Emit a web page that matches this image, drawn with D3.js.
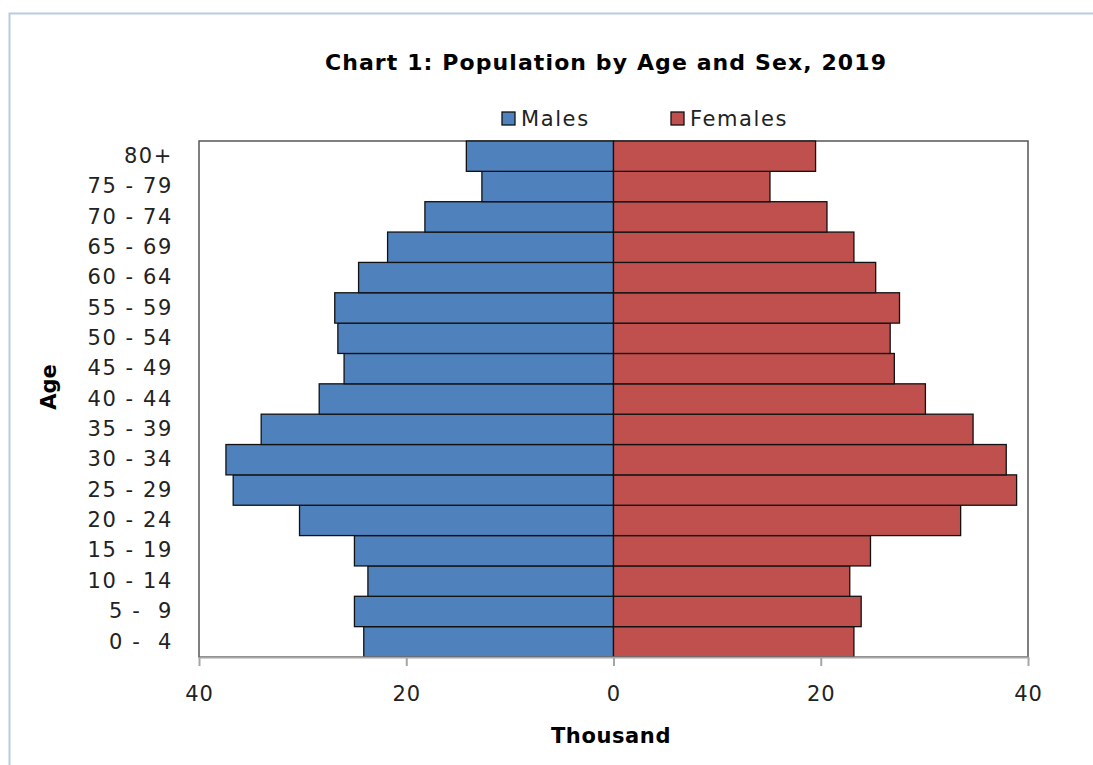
<!DOCTYPE html>
<html lang="en">
<head>
    <meta charset="UTF-8">
    <script src="https://d3js.org/d3.v7.min.js"></script>
    <title>Chart 1: Population by Age and Sex, 2019</title>
    <style>
        html, body {
            margin: 0px;
            padding: 0px;
            background-color: #ffffff;
            font-family: Verdana, "DejaVu Sans", sans-serif;
            color: #000;
        }
        text { white-space: pre; }
    </style>
</head>
<body>
    <div id="chart"></div>
    <script>
        // age groups, bottom to top
        let ages = ['0 -  4', '5 -  9', '10 - 14', '15 - 19', '20 - 24', '25 - 29', '30 - 34', '35 - 39',
                    '40 - 44', '45 - 49', '50 - 54', '55 - 59', '60 - 64', '65 - 69', '70 - 74', '75 - 79', '80+'];
        // thousands
        let males = [24.1, 25.0, 23.7, 25.0, 30.3, 36.7, 37.4, 34.0, 28.4, 26.0, 26.6, 26.9, 24.6, 21.8, 18.2, 12.7, 14.2];
        let females = [23.2, 23.9, 22.8, 24.8, 33.5, 38.9, 37.9, 34.7, 30.1, 27.1, 26.7, 27.6, 25.3, 23.2, 20.6, 15.1, 19.5];
        let xTicks = [-40, -20, 0, 20, 40];
        let series = [
            { name: 'Males', colour: '#4f81bd', values: males, sign: -1 },
            { name: 'Females', colour: '#c0504d', values: females, sign: 1 }
        ];

        let width = 1093;
        let height = 765;
        let plot = { left: 199, right: 1028, top: 141, bottom: 657 };

        let svg = d3.select('#chart').append('svg')
            .attr('width', width)
            .attr('height', height);

        // outer chart border (cropped)
        svg.append('path')
            .attr('d', `M9.5,${height} L9.5,13.5 L${width},13.5`)
            .attr('fill', 'none')
            .attr('stroke', '#b9cbe4')
            .attr('stroke-width', 2);

        let x = d3.scaleLinear().domain([-40, 40]).range([plot.left, plot.right]);
        let y = d3.scaleBand().domain(ages.slice().reverse()).range([plot.top, plot.bottom]).padding(0);

        // plot frame
        svg.append('rect')
            .attr('x', plot.left)
            .attr('y', plot.top)
            .attr('width', plot.right - plot.left)
            .attr('height', plot.bottom - plot.top)
            .attr('fill', '#fff')
            .attr('stroke', '#555')
            .attr('stroke-width', 1.5);

        // bars
        series.forEach(s => {
            svg.append('g').selectAll('rect')
                .data(s.values.map((v, i) => ({ age: ages[i], v: v * s.sign })))
                .join('rect')
                .attr('x', d => Math.min(x(0), x(d.v)))
                .attr('y', d => y(d.age))
                .attr('width', d => Math.abs(x(d.v) - x(0)))
                .attr('height', y.bandwidth())
                .attr('fill', s.colour)
                .attr('stroke', '#111')
                .attr('stroke-width', 1.3);
        });

        // x axis
        let xAxis = svg.append('g')
            .attr('transform', `translate(0,${plot.bottom})`)
            .call(d3.axisBottom(x).tickValues(xTicks).tickFormat(d => Math.abs(d)).tickSize(9).tickSizeOuter(0).tickPadding(20));
        xAxis.select('.domain').attr('stroke', '#a6a6a6').attr('stroke-width', 2);
        xAxis.selectAll('.tick line').attr('stroke', '#a6a6a6').attr('stroke-width', 2);
        xAxis.selectAll('.tick text')
            .attr('font-family', 'Verdana, "DejaVu Sans", sans-serif')
            .attr('font-size', 21)
            .attr('letter-spacing', 1)
            .attr('fill', '#222');

        // y axis labels
        let yAxis = svg.append('g')
            .attr('transform', `translate(${plot.left},0)`)
            .call(d3.axisLeft(y).tickSize(0).tickPadding(26));
        yAxis.select('.domain').remove();
        yAxis.selectAll('.tick text')
            .attr('font-family', 'Verdana, "DejaVu Sans", sans-serif')
            .attr('font-size', 21)
            .attr('letter-spacing', 1.6)
            .attr('fill', '#222');

        // titles
        svg.append('text')
            .attr('x', 606)
            .attr('y', 70)
            .attr('text-anchor', 'middle')
            .attr('font-size', 22)
            .attr('font-weight', 'bold')
            .attr('letter-spacing', 1.1)
            .text('Chart 1: Population by Age and Sex, 2019');

        svg.append('text')
            .attr('x', 611)
            .attr('y', 743)
            .attr('text-anchor', 'middle')
            .attr('font-size', 21)
            .attr('font-weight', 'bold')
            .attr('letter-spacing', 0.6)
            .text('Thousand');

        svg.append('text')
            .attr('transform', 'translate(56,387) rotate(-90)')
            .attr('text-anchor', 'middle')
            .attr('font-size', 21)
            .attr('font-weight', 'bold')
            .text('Age');

        // legend
        let legendX = [502, 671];
        let legend = svg.append('g').selectAll('g')
            .data(series)
            .join('g')
            .attr('transform', (d, i) => `translate(${legendX[i]},112)`);
        legend.append('rect')
            .attr('width', 13)
            .attr('height', 13)
            .attr('fill', d => d.colour)
            .attr('stroke', '#111')
            .attr('stroke-width', 1.3);
        legend.append('text')
            .attr('x', 19)
            .attr('y', 14)
            .attr('font-size', 21)
            .attr('letter-spacing', 1.6)
            .attr('fill', '#222')
            .text(d => d.name);
    </script>
</body>
</html>
